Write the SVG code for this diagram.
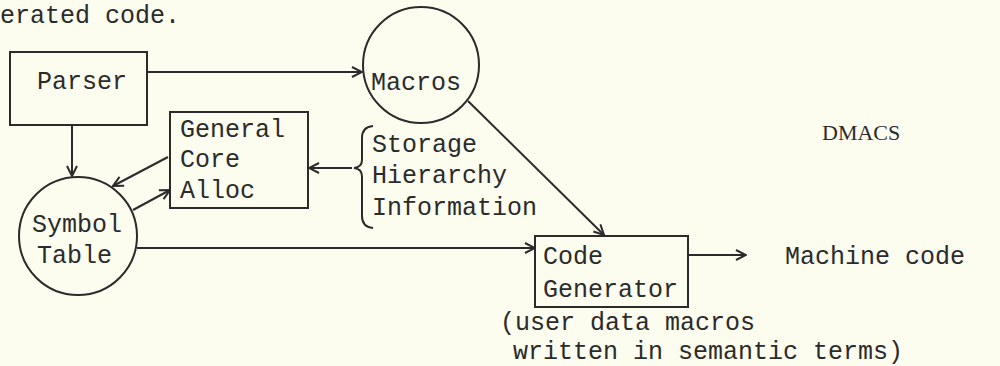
<svg xmlns="http://www.w3.org/2000/svg" width="1000" height="366" viewBox="0 0 1000 366">
<style>
.t{font-family:"Liberation Mono",monospace;font-size:25px;fill:#2b2b2b}
.s{fill:none;stroke:#2b2b2b;stroke-width:2}
.c{fill:none;stroke:#2b2b2b;stroke-width:2}
</style>
<defs>
<marker id="a" viewBox="0 0 12 12" refX="11" refY="6" markerWidth="12" markerHeight="12" markerUnits="userSpaceOnUse" orient="auto">
<path d="M1,1 L11,6 L1,11" fill="none" stroke="#2b2b2b" stroke-width="2"/>
</marker>
</defs>
<rect width="1000" height="366" fill="#fcfcef"/>
<text class="t" x="0" y="23">erated code.</text>
<g id="parser"><rect class="s" x="10" y="52" width="137" height="73"/><text class="t" x="37" y="89">Parser</text></g>
<g id="macros"><circle class="s" cx="421" cy="65" r="58"/><text class="t" x="371" y="90">Macros</text></g>
<g id="gca"><rect class="s" x="170" y="112" width="138" height="96"/><text class="t" x="180" y="137">General</text><text class="t" x="180" y="167">Core</text><text class="t" x="180" y="198">Alloc</text></g>
<g id="symtab"><circle class="s" cx="78" cy="236" r="59"/><text class="t" x="32" y="232">Symbol</text><text class="t" x="37" y="263">Table</text></g>
<g id="codegen"><rect class="s" x="535" y="236" width="153" height="71"/><text class="t" x="543" y="264">Code</text><text class="t" x="543" y="297">Generator</text></g>
<g id="storage"><path class="s" d="M373,126 Q362,127 362,138 L362,160 Q362,167 354,168 Q362,169 362,176 L362,216 Q362,227 373,228"/><text class="t" x="372" y="152">Storage</text><text class="t" x="372" y="183">Hierarchy</text><text class="t" x="372" y="215">Information</text></g>
<g id="labels"><text class="t" x="785" y="264">Machine code</text><text class="t" x="500" y="330">(user data macros</text><text class="t" x="513" y="359">written in semantic terms)</text><text x="822" y="140" style="font-family:'Liberation Serif',serif;font-size:22px;fill:#2b2b2b">DMACS</text></g>
<g id="connectors">
<line class="c" x1="147" y1="72" x2="362" y2="72" marker-end="url(#a)"/>
<line class="c" x1="72" y1="125" x2="72" y2="176" marker-end="url(#a)"/>
<line class="c" x1="168" y1="157" x2="113" y2="186" marker-end="url(#a)"/>
<line class="c" x1="133" y1="210" x2="170" y2="190" marker-end="url(#a)"/>
<line class="c" x1="352" y1="168" x2="309" y2="168" marker-end="url(#a)"/>
<line class="c" x1="468" y1="101" x2="604" y2="235" marker-end="url(#a)"/>
<line class="c" x1="137" y1="248" x2="535" y2="248" marker-end="url(#a)"/>
<line class="c" x1="688" y1="255" x2="746" y2="255" marker-end="url(#a)"/>
</g>
</svg>
